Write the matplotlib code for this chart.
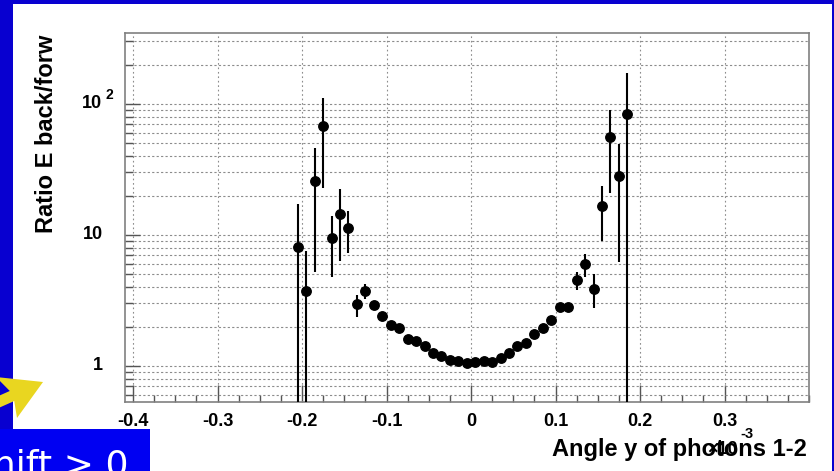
import matplotlib
matplotlib.use("Agg")
import matplotlib.pyplot as plt
import numpy as np
from matplotlib.patches import Rectangle, Polygon
from matplotlib.ticker import FixedLocator, NullFormatter
from matplotlib.transforms import blended_transform_factory

# ---------------- data ----------------
angle = [-0.205, -0.195, -0.185, -0.175, -0.165, -0.155, -0.145, -0.135, -0.125, -0.115,
         -0.105, -0.095, -0.085, -0.075, -0.065, -0.055, -0.045, -0.035, -0.025, -0.015,
         -0.005, 0.005, 0.015, 0.025, 0.035, 0.045, 0.055, 0.065, 0.075, 0.085,
         0.095, 0.105, 0.115, 0.125, 0.135, 0.145, 0.155, 0.165, 0.175, 0.185]
ratio = [8.1, 3.74, 25.7, 67.5, 9.44, 14.4, 11.4, 2.97, 3.74, 2.92,
         2.41, 2.06, 1.96, 1.61, 1.55, 1.42, 1.25, 1.19, 1.11, 1.09,
         1.05, 1.08, 1.09, 1.08, 1.16, 1.26, 1.43, 1.51, 1.75, 1.94,
         2.24, 2.84, 2.82, 4.53, 5.97, 3.89, 16.7, 55.6, 28.0, 83.9]
ratio_hi = [17.3, 7.5, 45.9, 112.0, 14.0, 22.3, 15.3, 3.48, 4.25, 3.15,
            2.55, 2.16, 2.05, 1.68, 1.62, 1.48, 1.30, 1.23, 1.15, 1.13,
            1.09, 1.12, 1.13, 1.12, 1.21, 1.32, 1.50, 1.59, 1.85, 2.06,
            2.40, 3.05, 3.05, 5.25, 7.1, 5.04, 23.8, 90.0, 49.5, 171.0]
ratio_lo = [0.01, 0.01, 5.19, 23.0, 4.75, 6.33, 7.33, 2.38, 3.25, 2.70,
            2.27, 1.96, 1.87, 1.54, 1.48, 1.36, 1.20, 1.15, 1.07, 1.05,
            1.01, 1.04, 1.05, 1.04, 1.11, 1.20, 1.36, 1.43, 1.65, 1.82,
            2.08, 2.63, 2.60, 3.8, 4.8, 2.76, 9.0, 21.0, 6.25, 0.01]

xticks_major = [-0.4, -0.3, -0.2, -0.1, 0.0, 0.1, 0.2, 0.3]
xtick_labels = ["-0.4", "-0.3", "-0.2", "-0.1", "0", "0.1", "0.2", "0.3"]
xlabel = "Angle y of photons 1-2"
ylabel = "Ratio E back/forw"
box_text = "Shift > 0"

W, H = 834, 471
FRAME_BLUE = "#0800d0"
BOX_BLUE = "#0000f2"
YELLOW = "#e9d620"
BOLD = dict(family=["Liberation Sans", "DejaVu Sans"], weight="bold")


def fx(x):
    return x / W


def fy(y):
    return 1 - y / H


fig = plt.figure(figsize=(W / 100, H / 100), dpi=100)
fig.patch.set_facecolor(FRAME_BLUE)

# white slide panel
fig.add_artist(Rectangle((fx(13), fy(471)), fx(832) - fx(13), fy(4) - fy(471),
                         transform=fig.transFigure, facecolor="white",
                         edgecolor="none", zorder=-5))

# ---------------- main axes ----------------
ax = fig.add_axes([fx(125), fy(402), fx(809) - fx(125), fy(33) - fy(402)])
ax.set_facecolor("white")
ax.set_yscale("log")
ax.set_xlim(-0.4095, 0.4)
ax.set_ylim(0.531, 348)

y = np.array(ratio)
yerr = np.vstack([y - np.array(ratio_lo), np.array(ratio_hi) - y])
ax.errorbar(angle, y, yerr=yerr, fmt="o", color="black", ms=6.8,
            elinewidth=1.5, capsize=0, zorder=5, clip_on=True)

# ticks
ax.xaxis.set_major_locator(FixedLocator(xticks_major))
ax.xaxis.set_minor_locator(FixedLocator(np.arange(-0.4, 0.4001, 0.025)))
ax.set_xticklabels(xtick_labels, fontsize=13, **BOLD)
ymaj = [1, 10, 100]
ymin = [0.6, 0.7, 0.8, 0.9] + [k for k in range(2, 10)] + [10 * k for k in range(2, 10)] + [200, 300]
ax.yaxis.set_major_locator(FixedLocator(ymaj))
ax.yaxis.set_minor_locator(FixedLocator(ymin))
ax.yaxis.set_major_formatter(NullFormatter())
ax.yaxis.set_minor_formatter(NullFormatter())

ax.tick_params(axis="x", which="major", direction="in", length=12, width=1,
               color="#555555", pad=8, top=False)
ax.tick_params(axis="x", which="minor", direction="in", length=5, width=1,
               color="#555555", top=False)
ax.tick_params(axis="y", which="major", direction="in", length=11, width=1,
               color="#555555", right=False)
ax.tick_params(axis="y", which="minor", direction="in", length=5.5, width=1,
               color="#555555", right=False)

# grid
ax.grid(True, which="both", axis="y", color="#8c8c8c", lw=0.8, ls=(0, (2, 2)))
ax.grid(True, which="major", axis="x", color="#8c8c8c", lw=0.8, ls=(0, (1.5, 2.5)))
ax.set_axisbelow(True)

for s in ax.spines.values():
    s.set_color("#808080")
    s.set_linewidth(1.2)

# y tick labels (ROOT style)
bt = blended_transform_factory(fig.transFigure, ax.transData)
ax.text(fx(103), 1, "1", transform=bt, ha="right", va="center", fontsize=13, **BOLD)
ax.text(fx(103), 10, "10", transform=bt, ha="right", va="center", fontsize=13, **BOLD)
ax.text(fx(102), 100, "10", transform=bt, ha="right", va="center", fontsize=13, **BOLD)
ax.text(fx(105), 100 * 10 ** (9 / 131), "2", transform=bt, ha="left", va="center",
        fontsize=10, **BOLD)

# axis titles
fig.text(fx(47), fy(35), ylabel, rotation=90, ha="center", va="top", fontsize=17, **BOLD)
fig.text(fx(807), fy(456), xlabel, ha="right", va="baseline", fontsize=17, **BOLD)
fig.text(fx(707), fy(454), "\u00d710", ha="left", va="baseline", fontsize=13, **BOLD)
fig.text(fx(740), fy(438), "-3", ha="left", va="baseline", fontsize=10.5, **BOLD)

# ---------------- slide decorations ----------------
fig.add_artist(Rectangle((fx(0), fy(471)), fx(150), fy(429) - fy(471),
                         transform=fig.transFigure, facecolor=BOX_BLUE,
                         edgecolor="none", zorder=20))
fig.text(fx(129), fy(476), box_text, ha="right", va="baseline", fontsize=26,
         color="white", family=["DejaVu Sans"], zorder=21)

# yellow arrow
tip = np.array([43.0, 382.0])
u = np.array([36.0, -16.0])
u /= np.linalg.norm(u)
n = np.array([-u[1], u[0]])
notch = np.array([12.0, 396.0])
wing1 = np.array([-4.0, 377.0])
wing2 = np.array([17.0, 418.0])
far = notch - 60 * u
pts_px = [tip, wing1, notch - 5.5 * n, far - 5.5 * n, far + 5.5 * n, notch + 5.5 * n, wing2]
pts = [(fx(p[0]), fy(p[1])) for p in pts_px]
fig.add_artist(Polygon(pts, closed=True, transform=fig.transFigure,
                       facecolor=YELLOW, edgecolor="none", zorder=19))

fig.savefig("out.png", dpi=100, facecolor=fig.get_facecolor())
